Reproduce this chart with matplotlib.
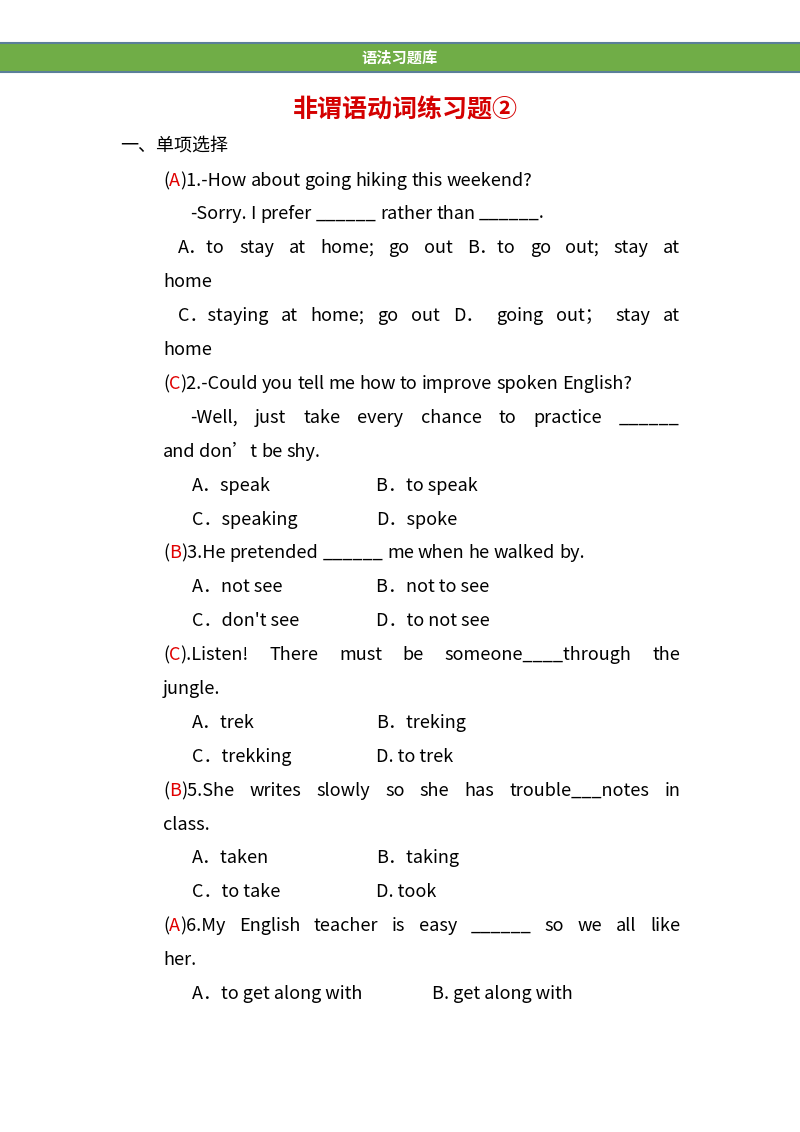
import matplotlib
matplotlib.use('Agg')
import matplotlib.pyplot as plt
from matplotlib.patches import Rectangle

FONT = ['Noto Sans CJK SC', 'DejaVu Sans']
RED = '#e00000'

header_text = '语法习题库'
title_text = '非谓语动词练习题②'
section_text = '一、单项选择'

# (x0, y, x_justify_end or None, text); [X] marks a red answer letter
lines = [
    (163, 181, None, '([A])1.-How about going hiking this weekend?'),
    (190, 214, None, '-Sorry. I prefer ______ rather than ______.'),
    (178, 248, 680, 'A．to stay at home; go out  B．to go out; stay at'),
    (163, 282, None, 'home'),
    (178, 316, 680, 'C．staying at home; go out D． going out； stay at'),
    (163, 350, None, 'home'),
    (163, 384, None, '([C])2.-Could you tell me how to improve spoken English?'),
    (190, 418, 680, '-Well, just take every chance to practice ______'),
    (163, 452, None, 'and don’t be shy.'),
    (163, 553, None, '([B])3.He pretended ______ me when he walked by.'),
    (163, 655, 680, '([C]).Listen! There must be someone____through the'),
    (163, 689, None, 'jungle.'),
    (163, 791, 680, '([B])5.She writes slowly so she has trouble___notes in'),
    (163, 825, None, 'class.'),
    (163, 926, 680, '([A])6.My English teacher is easy ______ so we all like'),
    (163, 960, None, 'her.'),
]

# option rows: (y, left option, right option, right x)
options = [
    (486, 'A．speak', 'B．to speak', 376),
    (520, 'C．speaking', 'D．spoke', 376),
    (587, 'A．not see', 'B．not to see', 376),
    (621, "C．don't see", 'D．to not see', 376),
    (723, 'A．trek', 'B．treking', 376),
    (757, 'C．trekking', 'D. to trek', 376),
    (858, 'A．taken', 'B．taking', 376),
    (892, 'C．to take', 'D. took', 376),
    (994, 'A．to get along with', 'B. get along with', 432),
]

fig = plt.figure(figsize=(8, 11.32), dpi=100)
ax = fig.add_axes([0, 0, 1, 1])
ax.set_xlim(0, 800)
ax.set_ylim(1132, 0)
ax.axis('off')
renderer = fig.canvas.get_renderer()

SIZE = 13


def put(x, y, s, color='black'):
    t = ax.text(x, y, s, fontsize=SIZE, color=color, family=FONT, va='center', ha='left')
    return t.get_window_extent(renderer).width


def measure(s):
    t = ax.text(0, 0, s, fontsize=SIZE, family=FONT)
    w = t.get_window_extent(renderer).width
    t.remove()
    return w


def runs_of(word):
    out = []
    parts = word.replace(']', '[').split('[')
    for i, p in enumerate(parts):
        if p:
            out.append((p, RED if i % 2 else 'black'))
    return out


def draw_line(x0, y, x1, text):
    words = [runs_of(w) for w in text.split()]
    widths = [sum(measure(r[0]) for r in w) for w in words]
    if x1 and len(words) > 1:
        gap = (x1 - x0 - sum(widths)) / (len(words) - 1)
    else:
        gap = measure('a a') - measure('aa')
    x = x0
    for w, wd in zip(words, widths):
        xx = x
        for s, c in w:
            xx += put(xx, y, s, c)
        x += wd + gap


# header bar
ax.add_patch(Rectangle((0, 42), 800, 30, facecolor='#70ad47', edgecolor='none'))
ax.plot([0, 800], [42.5, 42.5], color='#5b7f99', lw=1.5)
ax.plot([0, 800], [72, 72], color='#5b7f99', lw=1.5)
ax.text(400, 58, header_text, fontsize=11, color='white', weight='bold',
        family=FONT, ha='center', va='center')

ax.text(405, 110, title_text, fontsize=18, color='#d40000', weight='bold',
        family=FONT, ha='center', va='center')
ax.text(120, 146, section_text, fontsize=SIZE, family=FONT, va='center')

for x0, y, x1, text in lines:
    draw_line(x0, y, x1, text)

for y, left, right, rx in options:
    put(192, y, left)
    put(rx, y, right)

fig.savefig('out.png', dpi=100)
